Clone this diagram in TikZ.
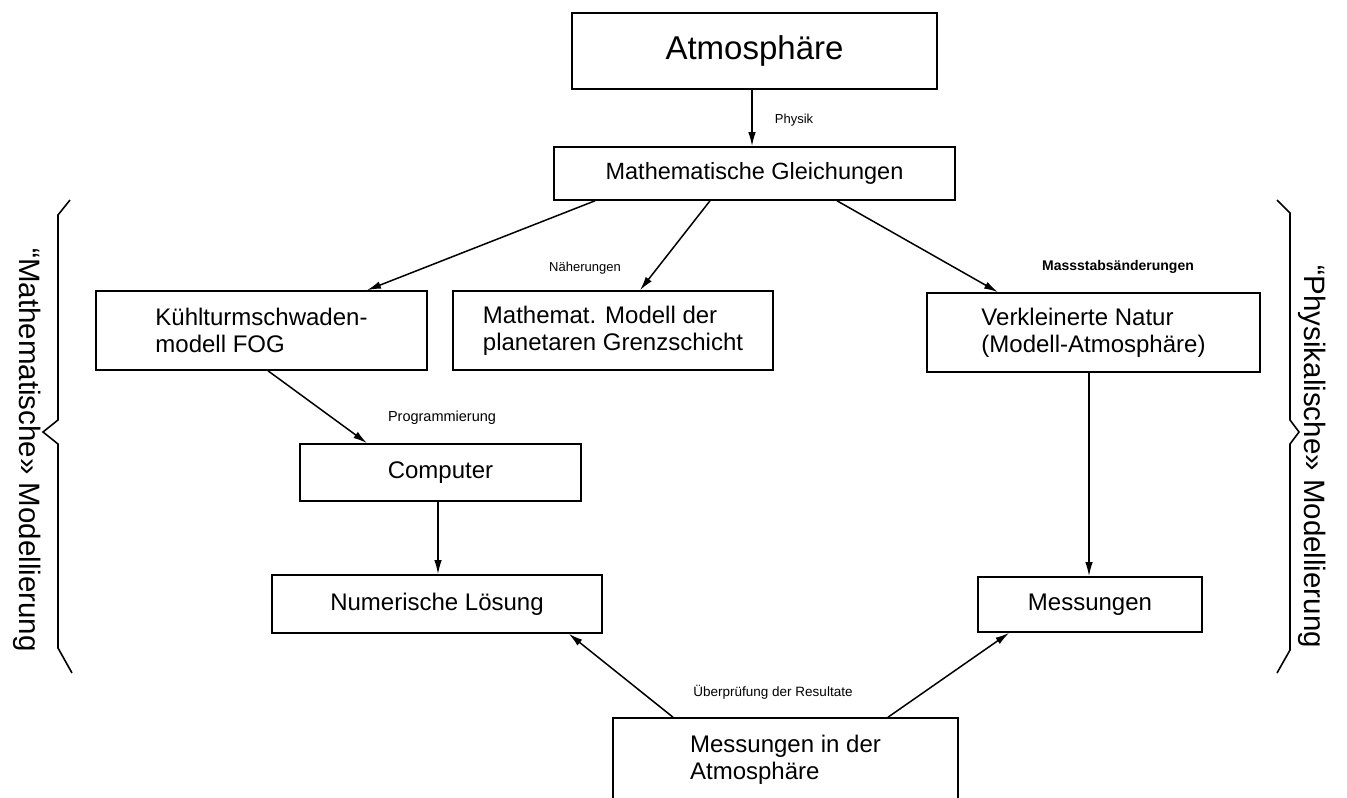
\documentclass[tikz,border=0pt]{standalone}
\usepackage{fontspec}
\setmainfont{Liberation Sans}
\usetikzlibrary{arrows.meta}
\tikzset{
 diabox/.style={draw, line width=1.6pt, inner sep=0pt, align=left, font=\fontsize{24}{27}\selectfont},
 conn/.style={line width=1.5pt, -{Latex[length=14pt,width=7.5pt]}},
 lbl/.style={font=\fontsize{13}{15}\selectfont, inner sep=0pt},
 brace/.style={line width=1.6pt, line join=miter},
 side/.style={font=\fontsize{29.5}{32}\selectfont, rotate=-90, inner sep=0pt}
}
\begin{document}
\begin{tikzpicture}[x=1pt,y=-1pt]
\clip (0,0) rectangle (1347,798);
% boxes
\node[diabox, minimum width=365pt, minimum height=76pt, font=\fontsize{33}{36}\selectfont] (atm) at (754.5,51) {Atmosphäre};
\node[diabox, minimum width=401pt, minimum height=53pt, font=\fontsize{23.5}{27}\selectfont] (mgl) at (754.5,173.5) {Mathematische Gleichungen};
\node[diabox, minimum width=331pt, minimum height=79pt] (kuehl) at (261.5,330.5) {Kühlturmschwaden-\\modell FOG};
\node[diabox, minimum width=320pt, minimum height=79pt] (mmod) at (613,330.5) {Mathemat. Modell der\\planetaren Grenzschicht};
\node[diabox, minimum width=333pt, minimum height=79pt] (verk) at (1093.5,332.5) {Verkleinerte Natur\\(Modell-Atmosphäre)};
\node[diabox, minimum width=281pt, minimum height=57pt] (comp) at (440.5,472.5) {Computer};
\node[diabox, minimum width=330pt, minimum height=58pt] (num) at (437,604) {Numerische Lösung};
\node[diabox, minimum width=224pt, minimum height=55pt] (mess) at (1090,604.5) {Messungen};
\node[diabox, minimum width=345pt, minimum height=84pt] (mia) at (785.5,760) {Messungen in der\\Atmosphäre};
% labels
\node[lbl] (lphys) at (794,120) {Physik};
\node[lbl] (lnaeh) at (585,268) {Näherungen};
\node[lbl, font=\bfseries\fontsize{14}{16}\selectfont] (lmass) at (1118,267) {Massstabsänderungen};
\node[lbl, font=\fontsize{14.5}{16}\selectfont] (lprog) at (442,418) {Programmierung};
\node[lbl, font=\fontsize{13.5}{16}\selectfont] (luber) at (773,692) {Überprüfung der Resultate};
% connectors
\draw[conn] ([xshift=-2.5pt]atm.south) -- ([xshift=-2.5pt]mgl.north);
\draw[conn] ([xshift=-159.5pt]mgl.south) -- ([xshift=105.5pt]kuehl.north);
\draw[conn] ([xshift=-44.5pt]mgl.south) -- ([xshift=27pt]mmod.north);
\draw[conn] ([xshift=82.5pt]mgl.south) -- ([xshift=-95.5pt]verk.north);
\draw[conn] ([xshift=6.5pt]kuehl.south) -- ([xshift=-73.5pt]comp.north);
\draw[conn] ([xshift=-2.5pt]comp.south) -- ([xshift=1pt]num.north);
\draw[conn] ([xshift=-4.5pt]verk.south) -- ([xshift=-1pt]mess.north);
\draw[conn] ([xshift=-112.5pt]mia.north) -- ([xshift=-34pt]num.south east);
\draw[conn] ([xshift=102.5pt]mia.north) -- ([xshift=32pt]mess.south west);
% side braces and texts
\draw[brace] (70,200) -- (58,215) -- (58,420) -- (43,432) -- (58,444) -- (58,648) -- (72,673);
\draw[brace] (1277,200) -- (1290,213) -- (1290,420) -- (1299,432) -- (1290,444) -- (1290,650) -- (1277,673);
\node[side] (smath) at (27,450) {“Mathematische» Modellierung};
\node[side] (sphys) at (1312,457) {“Physikalische» Modellierung};
\end{tikzpicture}
\end{document}
